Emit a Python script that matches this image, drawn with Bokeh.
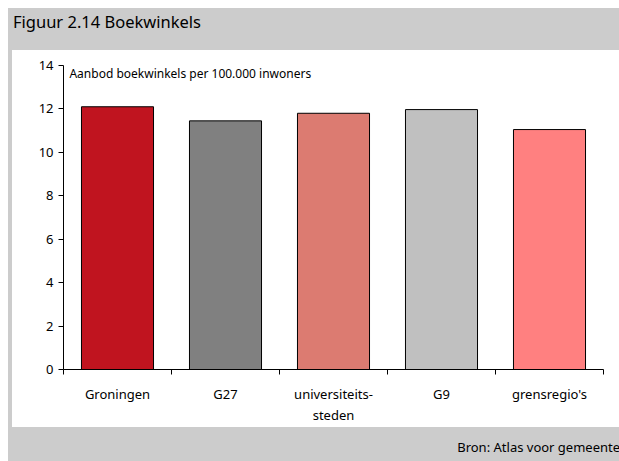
from bokeh.plotting import figure
from bokeh.models import FixedTicker, Range1d, Label, ColumnDataSource, Spacer
from bokeh.layouts import column, row
from bokeh.embed import file_html
from bokeh.resources import INLINE

categories = ["Groningen", "G27", "universiteits-\nsteden", "G9", "grensregio's"]
values = [12.1, 11.45, 11.8, 11.97, 11.05]
colors = ["#c0141f", "#808080", "#dc7b71", "#c0c0c0", "#ff8080"]
y_ticks = [0, 2, 4, 6, 8, 10, 12, 14]
title_text = "Figuur 2.14 Boekwinkels"
note_text = "Aanbod boekwinkels per 100.000 inwoners"
source_text = "Bron: Atlas voor gemeente"

FONT = "Noto Sans"
GRAY = "#cccccc"


def band(h, text, tx, ty, size):
    f = figure(width=611, height=h, output_backend="svg", toolbar_location=None,
               x_range=Range1d(0, 611), y_range=Range1d(h, 0),
               min_border=0, min_border_left=0, min_border_right=0,
               min_border_top=0, min_border_bottom=0)
    f.axis.visible = False
    f.grid.visible = False
    f.outline_line_color = None
    f.background_fill_color = GRAY
    f.border_fill_color = GRAY
    f.add_layout(Label(x=tx, y=ty, text=text, text_font=FONT, text_font_size=size,
                       text_baseline="middle", text_color="black"))
    return f


top = band(42, title_text, 4.5, 12.5, "16.5px")
bottom = band(34, source_text, 448.7, 19.5, "13px")

xs = [i + 0.5 for i in range(len(categories))]
src = ColumnDataSource(dict(x=xs, top=values, color=colors))

p = figure(width=607, height=377, output_backend="svg", toolbar_location=None,
           x_range=Range1d(0, 5), y_range=Range1d(0, 14),
           min_border_left=51, min_border_right=16, min_border_top=15, min_border_bottom=54,
           styles={"background-color": "white"})
p.border_fill_color = "white"
p.background_fill_color = "white"
p.outline_line_color = None
p.grid.visible = False

p.vbar(x="x", top="top", width=0.667, bottom=0, fill_color="color",
       line_color="black", line_width=1, source=src)

xa = p.xaxis[0]
xa.ticker = FixedTicker(ticks=xs, minor_ticks=list(range(len(categories) + 1)))
xa.major_label_overrides = {x: c for x, c in zip(xs, categories)}
xa.major_tick_out = 0
xa.major_tick_in = 0
xa.minor_tick_out = 5
xa.minor_tick_in = 0
xa.minor_tick_line_color = "black"
xa.axis_line_color = "black"
xa.major_label_text_font = FONT
xa.major_label_text_font_size = "13px"
xa.major_label_text_color = "black"
xa.major_label_standoff = 10

ya = p.yaxis[0]
ya.ticker = FixedTicker(ticks=y_ticks)
ya.minor_tick_line_color = None
ya.major_tick_out = 5
ya.major_tick_in = 0
ya.axis_line_color = "black"
ya.major_tick_line_color = "black"
ya.major_label_text_font = FONT
ya.major_label_text_font_size = "13px"
ya.major_label_text_color = "black"
ya.major_label_standoff = 5

p.add_layout(Label(x=0.055, y=13.64, text=note_text, text_font=FONT, text_font_size="12px",
                   text_baseline="middle", text_color="black"))

mid = row(Spacer(width=4, height=377), p, spacing=0)
chart = column(top, mid, bottom, spacing=0, styles={"background-color": GRAY})
page = column(Spacer(width=619, height=8),
              row(Spacer(width=8, height=453), chart, spacing=0), spacing=0)

open("out.html", "w").write(file_html(page, INLINE))
